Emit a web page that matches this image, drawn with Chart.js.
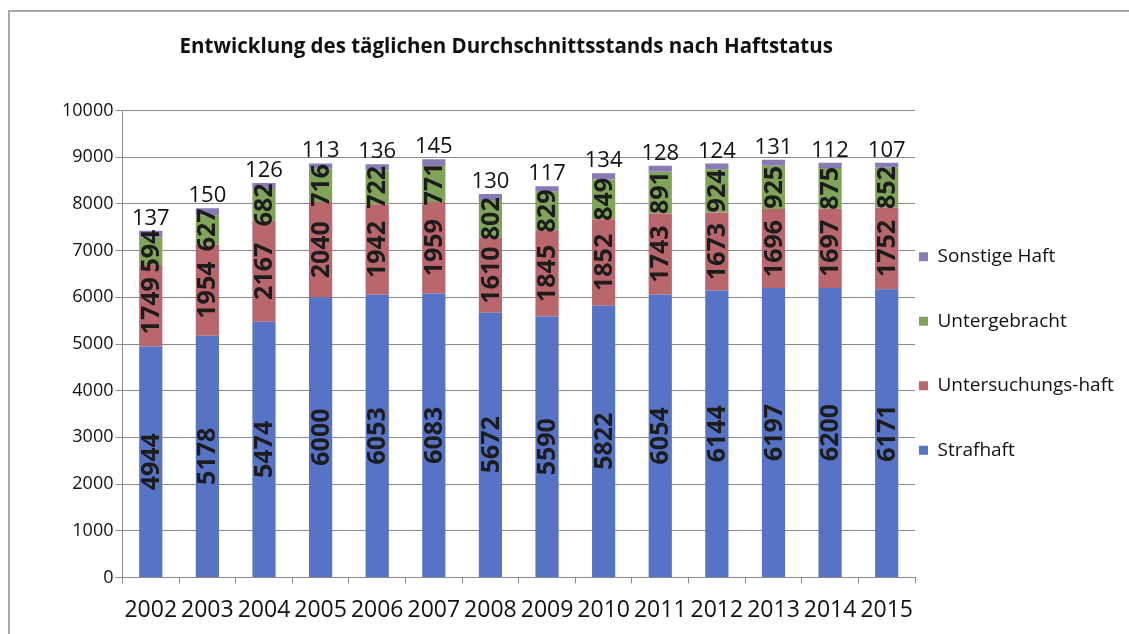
<!DOCTYPE html>
<html>
<head>
<meta charset="utf-8">
<script src="https://cdn.jsdelivr.net/npm/chart.js@4"></script>
<style>
  html, body { margin: 0; padding: 0; background: #fff; }
  #frame {
    position: absolute; left: 8px; top: 10px; width: 1125px; height: 630px;
    border-left: 2px solid #a8a8a8; border-top: 2px solid #a8a8a8; box-sizing: border-box;
  }
  #wrap { position: absolute; left: 0; top: 0; width: 1129px; height: 634px; }
</style>
</head>
<body>
<div id="frame"></div>
<div id="wrap"><canvas id="chart"></canvas></div>
<script>
const years = ['2002', '2003', '2004', '2005', '2006', '2007', '2008', '2009', '2010', '2011', '2012', '2013', '2014', '2015'];
const strafhaft = [4944, 5178, 5474, 6000, 6053, 6083, 5672, 5590, 5822, 6054, 6144, 6197, 6200, 6171];
const untersuchungshaft = [1749, 1954, 2167, 2040, 1942, 1959, 1610, 1845, 1852, 1743, 1673, 1696, 1697, 1752];
const untergebracht = [594, 627, 682, 716, 722, 771, 802, 829, 849, 891, 924, 925, 875, 852];
const sonstigeHaft = [137, 150, 126, 113, 136, 145, 130, 117, 134, 128, 124, 131, 112, 107];

// value labels: rotated inside the segments, flat above the top segment
const barLabels = {
  id: 'barLabels',
  afterDatasetsDraw(chart) {
    const ctx = chart.ctx;
    const last = chart.data.datasets.length - 1;
    chart.data.datasets.forEach((ds, i) => {
      const meta = chart.getDatasetMeta(i);
      meta.data.forEach((bar, j) => {
        const v = ds.data[j];
        ctx.save();
        if (i === last) {
          ctx.font = '22px "Open Sans"';
          ctx.fillStyle = '#111';
          ctx.textAlign = 'center';
          ctx.textBaseline = 'alphabetic';
          ctx.fillText(String(v), bar.x, bar.y - 6);
        } else {
          ctx.font = 'bold 25px "Open Sans"';
          ctx.fillStyle = '#1c1c1c';
          ctx.textAlign = 'center';
          ctx.textBaseline = 'middle';
          ctx.translate(bar.x, (bar.y + bar.base) / 2);
          ctx.rotate(-Math.PI / 2);
          ctx.fillText(String(v), 0, 1);
        }
        ctx.restore();
      });
    });
  }
};

// nudge legend and title after layout so the plot area can run close to the legend
const nudge = {
  id: 'nudge',
  afterLayout(chart) {
    const lg = chart.legend;
    const area = chart.chartArea;
    const dx = (area.right + 4) - (lg.left + lg.options.labels.padding);
    const dy = 27;
    lg.left += dx;
    lg.right = chart.width;
    lg.width = lg.right - lg.left;
    lg.top += dy; lg.bottom += dy;
    const t = chart.titleBlock;
    t.left = area.left - 25;
    t.right = area.right;
  }
};

const ctx = document.getElementById('chart');
new Chart(ctx, {
  type: 'bar',
  data: {
    labels: years,
    datasets: [
      { label: 'Strafhaft', data: strafhaft, backgroundColor: '#5773c6' },
      { label: 'Untersuchungs-haft', data: untersuchungshaft, backgroundColor: '#b9666c' },
      { label: 'Untergebracht', data: untergebracht, backgroundColor: '#80a55a' },
      { label: 'Sonstige Haft', data: sonstigeHaft, backgroundColor: '#8a7bb4' },
    ],
  },
  options: {
    responsive: true,
    maintainAspectRatio: false,
    animation: false,
    layout: { padding: { left: 60, right: 0, top: 16, bottom: -3 } },
    datasets: { bar: { barPercentage: 0.41, categoryPercentage: 1 } },
    scales: {
      x: {
        stacked: true,
        grid: { display: true, drawOnChartArea: false, color: '#8a8a8a', tickLength: 6 },
        border: { color: '#8a8a8a' },
        ticks: { color: '#111', font: { family: 'Open Sans', size: 23 }, maxRotation: 0, autoSkip: false, padding: 13 },
      },
      y: {
        stacked: true,
        min: 0,
        max: 10000,
        grid: { color: '#8a8a8a', tickLength: 7 },
        border: { color: '#8a8a8a' },
        ticks: {
          stepSize: 1000, color: '#111', padding: 2,
          font: { family: 'Open Sans', size: 18 },
          format: { useGrouping: false },
        },
      },
    },
    plugins: {
      title: {
        display: true,
        text: 'Entwicklung des täglichen Durchschnittsstands nach Haftstatus',
        color: '#111',
        font: { family: 'Open Sans', size: 20.5, weight: 'bold' },
        padding: { top: 19, bottom: 51 },
      },
      legend: {
        position: 'right',
        reverse: true,
        maxWidth: 214,
        labels: {
          boxWidth: 9,
          boxHeight: 9,
          padding: 45.5,
          color: '#111',
          font: { family: 'Open Sans', size: 19 },
        },
      },
      tooltip: { enabled: false },
    },
  },
  plugins: [barLabels, nudge],
});
</script>
</body>
</html>
